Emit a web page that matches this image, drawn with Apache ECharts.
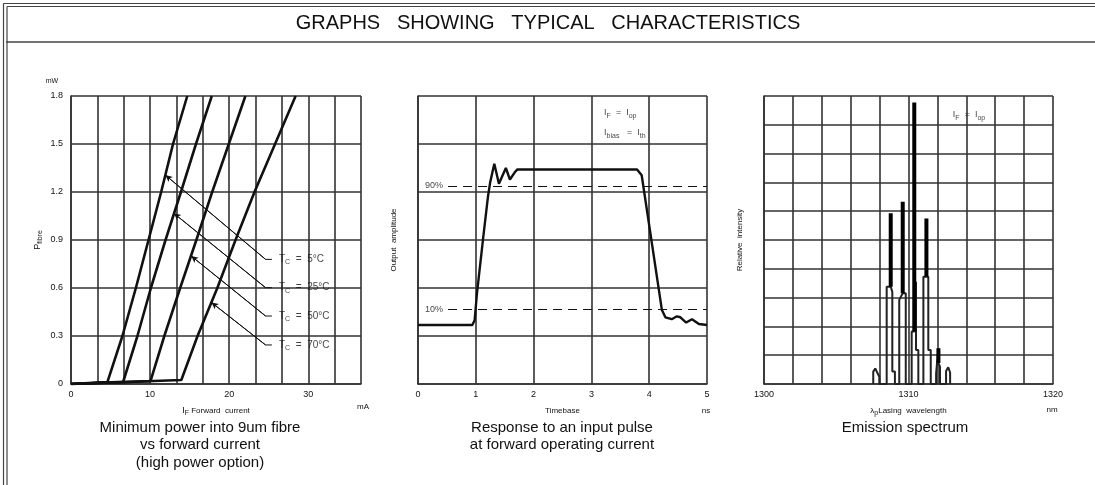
<!DOCTYPE html>
<html><head><meta charset="utf-8">
<script src="https://cdn.jsdelivr.net/npm/echarts@6/dist/echarts.min.js"></script>
<style>html,body{margin:0;padding:0;background:#fff}#c{width:1095px;height:485px}</style>
</head><body><div id="c"></div>
<script>
// ---------- DATA ----------
// Chart 1: minimum power into fibre vs forward current (mA, mW)
const curve5C  = [[0,0],[4.6,0.012],[6.5,0.3],[8.2,0.6],[9.8,0.9],[11.4,1.2],[12.9,1.5],[14.7,1.8]];
const curve25C = [[0,0],[6.6,0.014],[8.4,0.3],[10.1,0.6],[11.95,0.9],[13.9,1.2],[15.8,1.5],[17.8,1.8]];
const curve50C = [[0,0],[10.05,0.018],[11.8,0.3],[13.8,0.6],[15.85,0.9],[17.85,1.2],[19.95,1.5],[22.05,1.8]];
const curve70C = [[0,0],[13.95,0.025],[16.0,0.3],[18.5,0.6],[20.8,0.9],[23.2,1.2],[25.8,1.5],[28.4,1.8]];
const tempLabels = ['5°C','25°C','50°C','70°C'];
const tempLabelLevel = [0.779, 0.602, 0.425, 0.244];   // mW, where each leader ends
const arrowTipCurrent = [11.93, 13.0, 15.2, 17.75];     // mA, arrow tip on curve
const arrowTipPower = [1.306, 1.067, 0.80, 0.51];       // mW
const leaderElbow = 24.6, leaderEnd = 25.4, labelAt = 26.3;  // mA
const powerTicks = [0, 0.3, 0.6, 0.9, 1.2, 1.5, 1.8];
const currentTicks = [0, 10, 20, 30];

// Chart 2: response to an input pulse (ns, arbitrary amplitude)
const pulseTime = [0, 0.94, 0.98, 1.02, 1.13, 1.21, 1.25, 1.32, 1.40, 1.52, 1.59, 1.68, 1.72, 3.79, 3.87, 4.22, 4.28, 4.39, 4.48, 4.54, 4.64, 4.74, 4.86, 5.0];
const pulseAmp  = [1.23, 1.23, 1.33, 1.89, 3.07, 3.90, 4.21, 4.59, 4.17, 4.50, 4.26, 4.42, 4.47, 4.47, 4.35, 1.54, 1.39, 1.35, 1.41, 1.39, 1.28, 1.35, 1.25, 1.23];
const level90 = 4.13, level10 = 1.55, levelLineStart = 0.52;
const timeTicks = [0, 1, 2, 3, 4, 5];

// Chart 3: emission spectrum (nm, relative intensity)
const specOutlineX = [1307.56,1307.56,1307.7,1307.98,1307.98, 1308.49,1308.49,1308.77,1308.88,1308.88,1309.06,1309.06,
  1309.36,1309.36,1309.6,1309.81,1309.81, 1310.22,1310.22,1310.4,1310.52,1310.52,1310.68,1310.68,
  1311.03,1311.03,1311.37,1311.37,1311.54,1311.54, 1311.91,1311.91,1312.07,1312.07,1312.18,1312.18,
  1312.6,1312.6,1312.75,1312.88,1312.88];
const specOutlineY = [0,0.43,0.54,0.25,0, 0,3.38,3.38,3.2,0.43,0.43,0,
  0,2.92,3.15,3.15,0, 0,1.82,1.82,3.55,1.18,1.18,0,
  0,3.72,3.72,1.18,1.18,0, 0,0.37,1.24,0.73,0.6,0,
  0,0.45,0.58,0.4,0];
const spikeWavelength = [1308.77, 1309.6, 1310.4, 1311.24, 1312.07];
const spikeBase = [3.38, 3.15, 1.82, 3.72, 0.73];
const spikeTop  = [5.93, 6.33, 9.77, 5.75, 1.24];
const wavelengthTicks = [1300, 1310, 1320];

// ---------- STYLE ----------
const FF = '"Liberation Sans", Arial, sans-serif';
const INK = '#111';
const GRID = '#333';
const sub = {fontSize: 7, fontFamily: FF, color: INK, verticalAlign: 'bottom', lineHeight: 13};
const base = (fs) => ({fontSize: fs, fontFamily: FF, color: INK, verticalAlign: 'middle', lineHeight: 13});

function xAx(grid, min, max, interval, ticks, nameRich, nameText) {
  return {
    type: 'value', gridIndex: grid, min, max, interval,
    axisLine: {show: true, onZero: false, lineStyle: {color: GRID, width: 1.6}},
    axisTick: {show: false},
    splitLine: {show: true, lineStyle: {color: GRID, width: 1.6}},
    axisLabel: {fontSize: 9, fontFamily: FF, color: INK, margin: 6, showMaxLabel: true, showMinLabel: true,
      formatter: v => { const t = ticks.find(k => Math.abs(k - v) < 1e-6); return t === undefined ? '' : String(t); }},
    name: nameText, nameLocation: 'middle', nameGap: 20,
    nameTextStyle: {rich: nameRich, fontSize: 8, fontFamily: FF, color: INK}
  };
}
function yAx(grid, min, max, interval, labels, nameText, nameRich, gap) {
  return {
    type: 'value', gridIndex: grid, min, max, interval,
    axisLine: {show: true, onZero: false, lineStyle: {color: GRID, width: 1.6}},
    axisTick: {show: false},
    splitLine: {show: true, lineStyle: {color: GRID, width: 1.6}},
    axisLabel: {show: !!labels, fontSize: 9, fontFamily: FF, color: INK, margin: 8,
      formatter: v => { if (!labels) return ''; const t = labels.find(k => Math.abs(k - v) < 1e-6); return t === undefined ? '' : (t === 0 ? '0' : t.toFixed(1)); }},
    name: nameText, nameLocation: 'middle', nameRotate: 90, nameGap: gap,
    nameTextStyle: {rich: nameRich, fontSize: 8, fontFamily: FF, color: INK}
  };
}

const curveStyle = {color: '#111', width: 2.6};
const curves = [curve5C, curve25C, curve50C, curve70C].map(d => ({
  type: 'line', xAxisIndex: 0, yAxisIndex: 0, data: d, symbol: 'none', lineStyle: curveStyle, silent: true, z: 5
}));

const leaders = tempLabels.map((t, i) => ({
  type: 'line', xAxisIndex: 0, yAxisIndex: 0, symbol: 'none', silent: true, z: 4,
  data: [[leaderEnd, tempLabelLevel[i]], [leaderElbow, tempLabelLevel[i]], [arrowTipCurrent[i], arrowTipPower[i]]],
  lineStyle: {color: '#111', width: 1},
  markLine: {silent: true, symbol: ['none', 'arrow'], symbolSize: [5, 7], label: {show: false},
    lineStyle: {color: '#111', width: 1, type: 'solid'},
    data: [[{coord: [leaderElbow, tempLabelLevel[i]]}, {coord: [arrowTipCurrent[i], arrowTipPower[i]]}]]}
}));

const tempLabelSeries = {
  type: 'scatter', xAxisIndex: 0, yAxisIndex: 0, symbolSize: 0, silent: true, z: 6,
  data: tempLabelLevel.map(v => [labelAt, v]),
  label: {show: true, position: 'right', distance: 0,
    formatter: p => '{a|T}{s|C}{a|  =  ' + tempLabels[p.dataIndex] + '}',
    rich: {a: base(10), s: sub}}
};

const spikeData = [];
spikeWavelength.forEach((w, i) => { spikeData.push([w, spikeBase[i]], [w, spikeTop[i]], [w, '-']); });

const option = {
  animation: false,
  backgroundColor: '#fff',
  grid: [
    {left: 71, top: 96, width: 290, height: 288},
    {left: 418, top: 96, width: 289, height: 288},
    {left: 764, top: 96, width: 289, height: 288}
  ],
  xAxis: [
    xAx(0, 0, 110/3, 10/3, currentTicks, {i: base(9), s: sub, t: base(8)}, '{i|I}{s|F}{t| Forward  current}'),
    xAx(1, 0, 5, 1, timeTicks, {t: base(8)}, '{t|Timebase}'),
    xAx(2, 1300, 1320, 2, wavelengthTicks, {t: base(8), s: sub}, '{t|λ}{s|p}{t|Lasing  wavelength}')
  ],
  yAxis: [
    yAx(0, 0, 1.8, 0.3, powerTicks, '{t|P}{s|fibre}', {t: base(9), s: sub}, 27),
    yAx(1, 0, 6, 1, null, '{t|Output  amplitude}', {t: base(8)}, 18),
    yAx(2, 0, 10, 1, null, '{t|Relative  intensity}', {t: base(8)}, 18)
  ],
  series: [
    ...curves,
    ...leaders,
    tempLabelSeries,
    {
      type: 'line', xAxisIndex: 1, yAxisIndex: 1, symbol: 'none', silent: true, z: 5,
      data: pulseTime.map((t, i) => [t, pulseAmp[i]]),
      lineStyle: {color: '#111', width: 2.4},
      markLine: {silent: true, symbol: 'none', label: {show: false},
        lineStyle: {color: '#111', width: 1.2, type: [9, 6]},
        data: [
          [{coord: [levelLineStart, level90]}, {coord: [5, level90]}],
          [{coord: [levelLineStart, level10]}, {coord: [5, level10]}]
        ]}
    },
    {
      type: 'scatter', xAxisIndex: 1, yAxisIndex: 1, symbolSize: 0, silent: true, z: 6,
      data: [[0.12, level90], [0.12, level10]],
      label: {show: true, position: 'right', distance: 0, fontSize: 9, fontFamily: FF, color: INK,
        formatter: p => p.dataIndex === 0 ? '90%' : '10%'}
    },
    {
      type: 'scatter', xAxisIndex: 1, yAxisIndex: 1, symbolSize: 0, silent: true, z: 6,
      data: [[3.22, 5.65], [3.22, 5.23]],
      label: {show: true, position: 'right', distance: 0,
        formatter: p => p.dataIndex === 0 ? '{a|I}{s|F}{a|  =  I}{s|op}' : '{a|I}{s|bias}{a|   =  I}{s|th}',
        rich: {a: base(9), s: sub}}
    },
    {
      type: 'line', xAxisIndex: 2, yAxisIndex: 2, symbol: 'none', silent: true, z: 4,
      data: specOutlineX.map((x, i) => [x, specOutlineY[i]]),
      lineStyle: {color: '#222', width: 2}
    },
    {
      type: 'line', xAxisIndex: 2, yAxisIndex: 2, symbol: 'none', silent: true, z: 5, connectNulls: false,
      data: spikeData,
      lineStyle: {color: '#000', width: 4, cap: 'butt'}
    },
    {
      type: 'scatter', xAxisIndex: 2, yAxisIndex: 2, symbolSize: 0, silent: true, z: 6,
      data: [[1313.07, 9.34]],
      label: {show: true, position: 'right', distance: 0,
        formatter: '{a|I}{s|F}{a|  =  I}{s|op}', rich: {a: base(9), s: sub}}
    }
  ],
  graphic: [
    // frame
    {type: 'line', shape: {x1: 3.5, y1: 3.5, x2: 1095, y2: 3.5}, style: {stroke: '#444', lineWidth: 1.2}, silent: true},
    {type: 'line', shape: {x1: 7, y1: 6.5, x2: 1095, y2: 6.5}, style: {stroke: '#444', lineWidth: 1.2}, silent: true},
    {type: 'line', shape: {x1: 3.5, y1: 3.5, x2: 3.5, y2: 485}, style: {stroke: '#444', lineWidth: 1.2}, silent: true},
    {type: 'line', shape: {x1: 7, y1: 6.5, x2: 7, y2: 485}, style: {stroke: '#444', lineWidth: 1.2}, silent: true},
    {type: 'line', shape: {x1: 6, y1: 42, x2: 1095, y2: 42}, style: {stroke: '#444', lineWidth: 1.6}, silent: true},
    // title
    {type: 'text', x: 548, y: 23, silent: true,
      style: {text: 'GRAPHS   SHOWING   TYPICAL   CHARACTERISTICS', fontSize: 20, fontFamily: FF, fill: INK, align: 'center', verticalAlign: 'middle'}},
    // units
    {type: 'text', x: 52, y: 81, silent: true, style: {text: 'mW', fontSize: 7, fontFamily: FF, fill: INK, align: 'center', verticalAlign: 'middle'}},
    {type: 'text', x: 363, y: 407, silent: true, style: {text: 'mA', fontSize: 8, fontFamily: FF, fill: INK, align: 'center', verticalAlign: 'middle'}},
    {type: 'text', x: 706, y: 411, silent: true, style: {text: 'ns', fontSize: 8, fontFamily: FF, fill: INK, align: 'center', verticalAlign: 'middle'}},
    {type: 'text', x: 1052, y: 410, silent: true, style: {text: 'nm', fontSize: 8, fontFamily: FF, fill: INK, align: 'center', verticalAlign: 'middle'}},
    // captions
    {type: 'text', x: 200, y: 419, silent: true,
      style: {text: 'Minimum power into 9um fibre\nvs forward current\n(high power option)', fontSize: 15, lineHeight: 17.5, fontFamily: FF, fill: INK, align: 'center', verticalAlign: 'top'}},
    {type: 'text', x: 562, y: 419, silent: true,
      style: {text: 'Response to an input pulse\nat forward operating current', fontSize: 15, lineHeight: 17.5, fontFamily: FF, fill: INK, align: 'center', verticalAlign: 'top'}},
    {type: 'text', x: 905, y: 419, silent: true,
      style: {text: 'Emission spectrum', fontSize: 15, lineHeight: 17.5, fontFamily: FF, fill: INK, align: 'center', verticalAlign: 'top'}}
  ]
};
const chart = echarts.init(document.getElementById('c'), null, {renderer: 'canvas'});
chart.setOption(option);
</script></body></html>
